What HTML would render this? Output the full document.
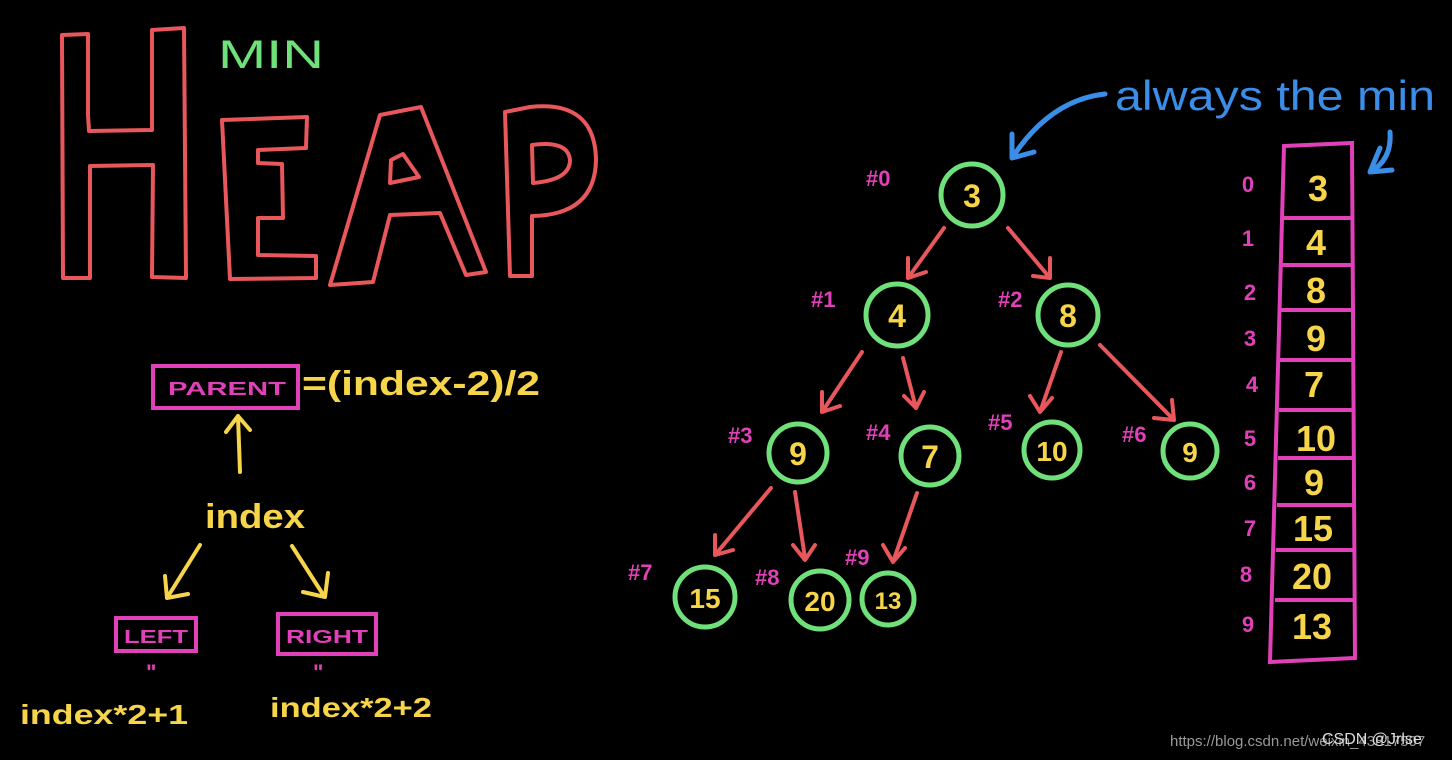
<!DOCTYPE html>
<html><head><meta charset="utf-8"><style>
html,body{margin:0;padding:0;background:#000;width:1452px;height:760px;overflow:hidden}
svg{display:block}
text{font-family:"Liberation Sans",sans-serif}
</style></head><body>
<svg width="1452" height="760" viewBox="0 0 1452 760" xmlns="http://www.w3.org/2000/svg">
<rect width="1452" height="760" fill="#000"/>
<g fill="none" stroke="#e8575c" stroke-width="4" stroke-linejoin="round" stroke-linecap="round">
<path d="M62,35 L88,34 L88,115 L89,131 L152,130 L152,30 L184,28 L186,278 L152,277 L153,165 L90,166 L90,278 L63,278 Z"/>
<path d="M222,120 L307,117 L306,148 L258,150 L258,163 L282,164 L283,218 L258,218 L258,255 L316,256 L316,278 L230,279 Z"/>
<path d="M380,115 L421,107 L486,272 L466,275 L440,213 L390,215 L373,282 L330,285 Z"/>
<path d="M391,160 L403,154 L419,177 L390,183 Z"/>
<path d="M505,112 L530,107 Q595,100 596,160 Q595,215 532,216 L532,276 L510,276 Z"/>
<path d="M532,145 Q568,140 570,160 Q570,180 533,183 Z"/>
</g>
<text x="218" y="68" font-size="40" fill="#6fe07a" textLength="106" lengthAdjust="spacingAndGlyphs">MIN</text>

<g fill="none" stroke="#e040b8" stroke-width="4">
<rect x="153" y="366" width="145" height="42"/>
<rect x="116" y="618" width="80" height="33"/>
<rect x="278" y="614" width="98" height="40"/>
</g>
<g fill="#e040b8" font-size="18" font-weight="bold">
<text x="168" y="395" textLength="118" lengthAdjust="spacingAndGlyphs">PARENT</text>
<text x="124" y="643" textLength="64" lengthAdjust="spacingAndGlyphs">LEFT</text>
<text x="286" y="643" textLength="82" lengthAdjust="spacingAndGlyphs">RIGHT</text>
<text x="146" y="680" font-size="22">"</text>
<text x="313" y="680" font-size="22">"</text>
</g>
<g fill="#f7d54a" font-weight="bold">
<text x="302" y="395" font-size="34" textLength="238" lengthAdjust="spacingAndGlyphs">=(index-2)/2</text>
<text x="205" y="528" font-size="34" textLength="100" lengthAdjust="spacingAndGlyphs">index</text>
<text x="20" y="724" font-size="28" textLength="168" lengthAdjust="spacingAndGlyphs">index*2+1</text>
<text x="270" y="717" font-size="28" textLength="162" lengthAdjust="spacingAndGlyphs">index*2+2</text>
</g>
<g fill="none" stroke="#f7d54a" stroke-width="4" stroke-linecap="round" stroke-linejoin="round">
<path d="M240,472 L238,416 M226,432 L238,416 L250,430"/>
<path d="M200,545 L167,598 M165,576 L167,598 L188,594"/>
<path d="M292,546 L324,596 M328,573 L325,597 L303,592"/>
</g>

<g fill="none" stroke="#e8575c" stroke-width="4" stroke-linecap="round" stroke-linejoin="round">
<path d="M944,228 L908,278 M908,258 L908,278 L926,272"/>
<path d="M1008,228 L1050,278 M1033,276 L1050,278 L1050,258"/>
<path d="M862,352 L822,412 M822,392 L822,412 L840,406"/>
<path d="M903,358 L916,408 M904,396 L916,408 L924,392"/>
<path d="M1061,352 L1040,412 M1030,396 L1040,412 L1052,398"/>
<path d="M1100,345 L1174,420 M1154,418 L1174,420 L1172,400"/>
<path d="M771,488 L715,555 M715,535 L715,555 L733,550"/>
<path d="M795,492 L805,558 M793,545 L805,560 L815,545"/>
<path d="M917,493 L893,562 M883,545 L893,562 L905,548"/>
</g>
<g fill="none" stroke="#6fe07a" stroke-width="5">
<circle cx="972" cy="195" r="31"/>
<circle cx="897" cy="315" r="31"/>
<circle cx="1068" cy="315" r="30"/>
<circle cx="798" cy="453" r="29"/>
<circle cx="930" cy="456" r="29"/>
<circle cx="1052" cy="450" r="28"/>
<circle cx="1190" cy="451" r="27"/>
<circle cx="705" cy="597" r="30"/>
<circle cx="820" cy="600" r="29"/>
<circle cx="888" cy="599" r="26"/>
</g>
<g fill="#f7d54a" font-size="32" text-anchor="middle" font-weight="bold">
<text x="972" y="207">3</text>
<text x="897" y="327">4</text>
<text x="1068" y="327">8</text>
<text x="798" y="465">9</text>
<text x="930" y="468">7</text>
<text x="1052" y="461" font-size="28">10</text>
<text x="1190" y="462" font-size="28">9</text>
<text x="705" y="608" font-size="28">15</text>
<text x="820" y="611" font-size="28">20</text>
<text x="888" y="609" font-size="24">13</text>
</g>
<g fill="#e040b8" font-size="22" font-weight="bold">
<text x="866" y="186">#0</text>
<text x="811" y="307">#1</text>
<text x="998" y="307">#2</text>
<text x="728" y="443">#3</text>
<text x="866" y="440">#4</text>
<text x="988" y="430">#5</text>
<text x="1122" y="442">#6</text>
<text x="628" y="580">#7</text>
<text x="755" y="585">#8</text>
<text x="845" y="565">#9</text>
</g>

<g fill="none" stroke="#e040b8" stroke-width="4">
<path d="M1284,146 L1352,143 L1355,658 L1270,662 Z"/>
<path d="M1282,218 L1354,218 M1282,265 L1354,265 M1281,310 L1354,310 M1280,360 L1354,360 M1279,410 L1354,410 M1278,458 L1354,458 M1277,505 L1354,505 M1276,550 L1354,550 M1275,600 L1354,600"/>
</g>
<g fill="#f7d54a" font-size="36" text-anchor="middle" font-weight="bold">
<text x="1318" y="201">3</text>
<text x="1316" y="255">4</text>
<text x="1316" y="303">8</text>
<text x="1316" y="351">9</text>
<text x="1314" y="397">7</text>
<text x="1316" y="451">10</text>
<text x="1314" y="495">9</text>
<text x="1313" y="541">15</text>
<text x="1312" y="589">20</text>
<text x="1312" y="639">13</text>
</g>
<g fill="#e040b8" font-size="22" text-anchor="middle" font-weight="bold">
<text x="1248" y="192">0</text>
<text x="1248" y="246">1</text>
<text x="1250" y="300">2</text>
<text x="1250" y="346">3</text>
<text x="1252" y="392">4</text>
<text x="1250" y="446">5</text>
<text x="1250" y="490">6</text>
<text x="1250" y="536">7</text>
<text x="1246" y="582">8</text>
<text x="1248" y="632">9</text>
</g>

<text x="1115" y="110" font-size="42" fill="#3a8ee8" textLength="320" lengthAdjust="spacingAndGlyphs">always the min</text>
<g fill="none" stroke="#3a8ee8" stroke-width="5" stroke-linecap="round" stroke-linejoin="round">
<path d="M1105,94 Q1050,100 1012,158 M1012,134 L1012,158 L1034,152"/>
<path d="M1390,132 Q1392,160 1370,172 M1380,148 L1370,172 L1392,170"/>
</g>

<text x="1170" y="746" font-size="15" fill="#999">https://blog.csdn.net/weixin_43817507</text>
<text x="1322" y="744" font-size="16" fill="#ddd">CSDN @Jrlse</text>
</svg>
</body></html>
